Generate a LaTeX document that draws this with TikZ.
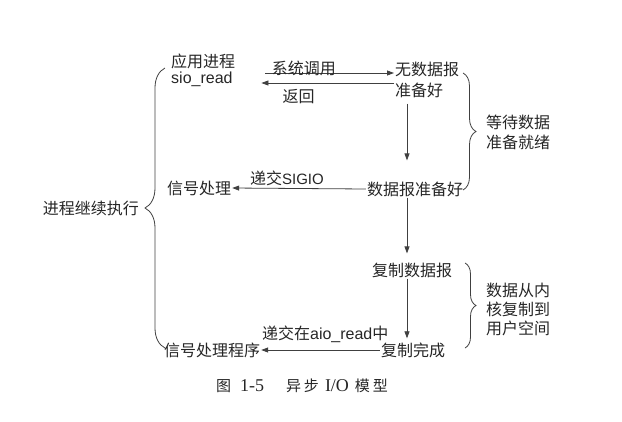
\documentclass[tikz,border=0pt]{standalone}
\usepackage{fontspec}
\setmainfont{Liberation Sans}
\newfontfamily\cjk{Noto Sans CJK SC}
\newfontfamily\capserif{Liberation Serif}
\usetikzlibrary{arrows.meta,decorations.pathreplacing}

\newcommand\ltn[1]{{\rmfamily\fontsize{16}{20}\selectfont #1}}

\tikzset{
  lbl/.style={font=\cjk\fontsize{16}{21}\selectfont, text=black!85, inner sep=1pt},
  arr/.style={draw=black!75, line width=0.8pt, -{Triangle[length=7pt,width=5pt]}},
  brc/.style={draw=black!75, line width=0.8pt, decorate, decoration={brace,amplitude=#1}},
}

\begin{document}
\begin{tikzpicture}[x=1pt,y=-1pt]
\useasboundingbox (0,0) rectangle (622,421);
% the process side on the left, the kernel side on the right
\node[lbl, anchor=west, align=left] (app) at (170,70) {应用进程\\[-5pt]\ltn{sio\_read}};
\node[lbl, anchor=west, align=left] (nodata) at (394,79.5) {无数据报\\准备好};
\node[lbl] (ready) at (415,189) {数据报准备好};
\node[lbl] (sig) at (199,188) {信号处理};
\node[lbl] (copy) at (412,270) {复制数据报};
\node[lbl] (done) at (413,350) {复制完成};
\node[lbl] (handler) at (212,350) {信号处理程序};
\coordinate (col) at (407,0);

% left and right braces with their notes
\node[lbl, anchor=east] (cont) at (140,208) {进程继续执行};
\node[lbl, anchor=west, align=left] (wait) at (485,132) {等待数据\\[-1pt]准备就绪};
\node[lbl, anchor=west, align=left] (kcopy) at (485,309) {数据从内\\[-2pt]核复制到\\[-2pt]用户空间};
\draw[brc=20pt] (165,348) -- (165,68);
\draw[brc=13pt] (463,73) -- (463,190);
\draw[brc=11pt] (465,263) -- (465,348);

% system call and return
\draw[arr] ([xshift=29pt,yshift=-3pt]app.east) -- node[lbl, pos=0.3, above=-4pt] (call) {系统调用} ([yshift=6.5pt]nodata.west);
\draw[arr] ([yshift=-3.5pt]nodata.west) -- node[lbl, pos=0.72, below=5pt] (ret) {返回} ([xshift=25pt,yshift=-13pt]app.east);

% kernel steps
\draw[arr, shorten <=5pt, shorten >=20pt] (nodata.south -| col) -- (ready.north -| col);
\draw[arr, shorten >=8pt] (ready.south -| col) -- (copy.north -| col);
\draw[arr, shorten >=3pt] (copy.south -| col) -- (done.north -| col);

% signals back to the process
\draw[arr] (ready.west) -- node[lbl, pos=0.59, above=1pt] (sigio) {递交\ltn{\fontsize{15}{20}\selectfont SIGIO}} (sig.east);
\draw[arr] (done.west) -- node[lbl, pos=0.46, above=6pt] (aio) {递交在\ltn{aio\_read}中} (handler.east);

\node[lbl, font=\cjk\fontsize{15}{20}\selectfont] (cap) at (302,386) {图\hspace{9pt}{\capserif\fontsize{18}{20}\selectfont 1-5}\hspace{22pt}异\hspace{3pt}步\hspace{6pt}{\capserif\fontsize{18}{20}\selectfont I/O}\hspace{6pt}模\hspace{3pt}型};
\end{tikzpicture}
\end{document}
